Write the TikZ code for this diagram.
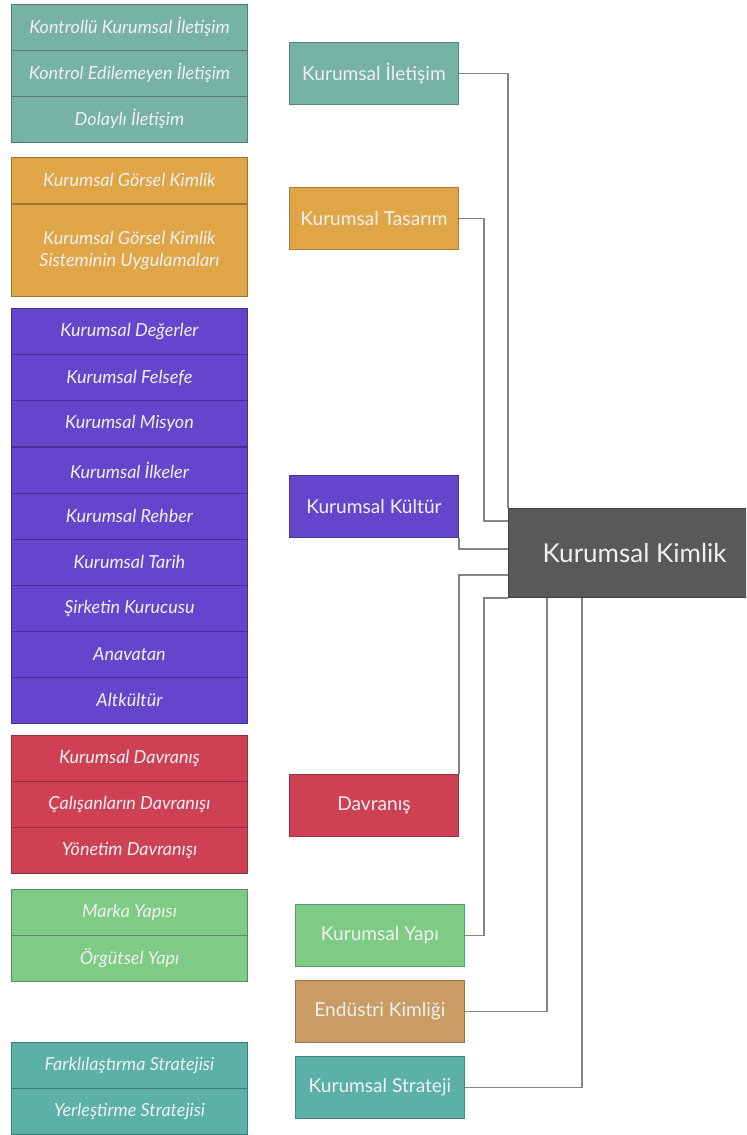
\documentclass[tikz,border=0pt]{standalone}
\usepackage{fontspec}
\setmainfont{Lato}
\usetikzlibrary{calc}

\definecolor{iletisim}{HTML}{77B3A5}
\definecolor{tasarim}{HTML}{E0A547}
\definecolor{kultur}{HTML}{6346CC}
\definecolor{davranis}{HTML}{CE4155}
\definecolor{yapi}{HTML}{7ECB86}
\definecolor{endustri}{HTML}{C89C62}
\definecolor{strateji}{HTML}{5BB1A8}
\definecolor{kimlik}{HTML}{595959}
\definecolor{linkgray}{HTML}{848484}

\tikzset{
  item/.style={draw=#1!70!black, fill=#1, text=white!94!black, line width=0.6pt,
    font=\fontsize{12.8}{15.5}\selectfont\itshape, align=center, inner sep=0pt,
    minimum width=5.9cm, minimum height=1.15cm, anchor=north west},
  topic/.style={draw=#1!75!black, fill=#1, text=white!94!black, line width=0.6pt,
    font=\fontsize{13.6}{16}\selectfont, inner sep=0pt,
    minimum width=4.225cm, minimum height=1.55cm, anchor=north west},
  link/.style={draw=linkgray, line width=1pt}
}

\begin{document}
\begin{tikzpicture}[x=0.025cm,y=-0.025cm]
  \clip (0,0) rectangle (746,1135);

  % left lists
  \node[item=iletisim] (ilet1) at (11,4) {Kontrollü Kurumsal İletişim};
  \node[item=iletisim] (ilet2) at (11,50) {Kontrol Edilemeyen İletişim};
  \node[item=iletisim] (ilet3) at (11,96) {Dolaylı İletişim};

  \node[item=tasarim] (tas1) at (11,157) {Kurumsal Görsel Kimlik};
  \node[item=tasarim, minimum height=2.3cm] (tas2) at (11,204) {Kurumsal Görsel Kimlik\\Sisteminin Uygulamaları};

  \foreach \t [count=\i] in {Kurumsal Değerler, Kurumsal Felsefe, Kurumsal Misyon,
      Kurumsal İlkeler, Kurumsal Rehber, Kurumsal Tarih, Şirketin Kurucusu,
      Anavatan, Altkültür}
    \node[item=kultur] (kul\i) at (11,{262.1+46.1*\i}) {\t};

  \node[item=davranis] (dav1) at (11,735) {Kurumsal Davranış};
  \node[item=davranis] (dav2) at (11,781) {Çalışanların Davranışı};
  \node[item=davranis] (dav3) at (11,827) {Yönetim Davranışı};

  \node[item=yapi] (yap1) at (11,889) {Marka Yapısı};
  \node[item=yapi] (yap2) at (11,935) {Örgütsel Yapı};

  \node[item=strateji] (str1) at (11,1042) {Farklılaştırma Stratejisi};
  \node[item=strateji] (str2) at (11,1088) {Yerleştirme Stratejisi};

  % middle topics
  \node[topic=iletisim] (ilet) at (289,42) {Kurumsal İletişim};
  \node[topic=tasarim] (tasar) at (289,187) {Kurumsal Tasarım};
  \node[topic=kultur] (kult) at (289,475) {Kurumsal Kültür};
  \node[topic=davranis] (davr) at (289,774) {Davranış};
  \node[topic=yapi] (yapi) at (295,904) {Kurumsal Yapı};
  \node[topic=endustri] (endu) at (295,980) {Endüstri Kimliği};
  \node[topic=strateji] (strat) at (295,1056) {Kurumsal Strateji};

  % main
  \node[draw=black!75, fill=kimlik, text=white!94!black, line width=0.8pt,
    font=\fontsize{18.5}{22}\selectfont, inner sep=0pt, minimum width=6.3cm,
    minimum height=2.225cm, anchor=north west] (main) at (508,508) {Kurumsal Kimlik};

  % links
  \draw[link] (ilet.east) -| (main.north west);
  \draw[link] (tasar.east) -- ++(25,0) |- ($(main.north west)+(0,13)$);
  \draw[link] (kult.south east) |- ($(main.north west)+(0,41)$);
  \draw[link] (davr.north east) |- ($(main.north west)+(0,67)$);
  \draw[link] (yapi.east) -- ++(19,0) |- (main.south west);
  \draw[link] (endu.east) -| ($(main.south west)+(39,0)$);
  \draw[link] (strat.east) -| ($(main.south west)+(74,0)$);
\end{tikzpicture}
\end{document}
